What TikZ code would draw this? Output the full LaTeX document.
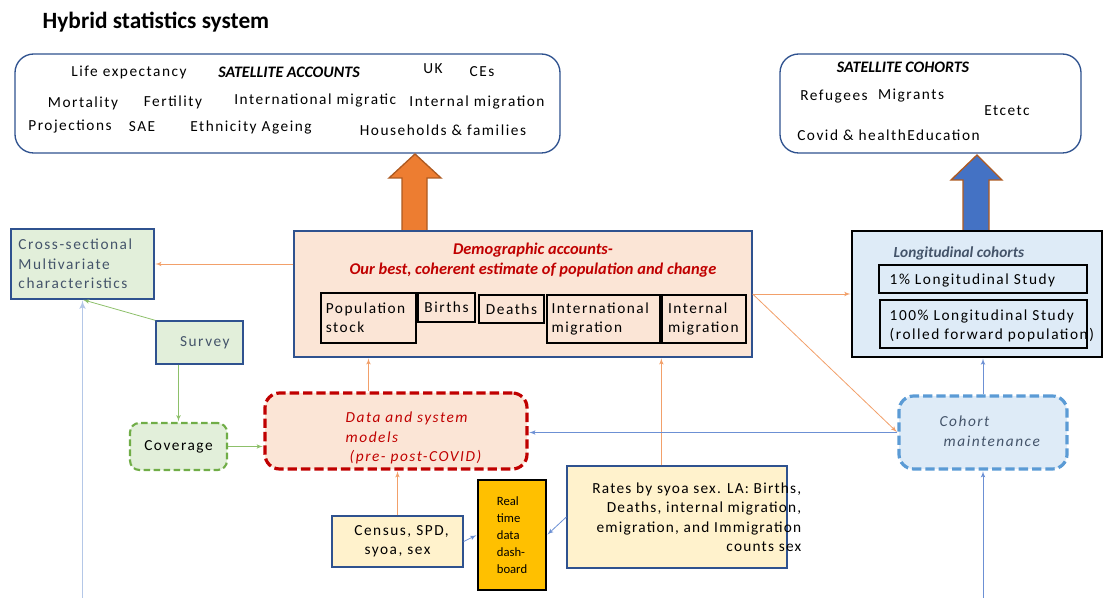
\documentclass[tikz,border=0pt]{standalone}
\usepackage{fontspec}
\setmainfont{Carlito}[LetterSpace=10,BoldFeatures={LetterSpace=0},BoldItalicFeatures={LetterSpace=0}]
\usepackage{tikz}
\usetikzlibrary{arrows}
\usetikzlibrary{calc}

\definecolor{boxblue}{HTML}{2F528F}
\definecolor{graytxt}{HTML}{44546A}
\definecolor{redtxt}{HTML}{C00000}
\definecolor{pinkfill}{HTML}{FBE5D6}
\definecolor{greenfill}{HTML}{E2EFDA}
\definecolor{bluefill}{HTML}{DEEBF7}
\definecolor{yellowfill}{HTML}{FFF2CC}
\definecolor{goldfill}{HTML}{FFC000}
\definecolor{arroworange}{HTML}{ED7D31}
\definecolor{arrowblue}{HTML}{4472C4}
\definecolor{arrowedge}{HTML}{AE5A21}
\definecolor{lnorange}{HTML}{F2A06A}
\definecolor{lngreen}{HTML}{8DC06A}
\definecolor{lnblue}{HTML}{6C90D4}
\definecolor{lnpale}{HTML}{B4C7E7}
\definecolor{dashgreen}{HTML}{70AD47}
\definecolor{dashblue}{HTML}{5B9BD5}

\begin{document}
\begin{tikzpicture}[x=0.75pt,y=-0.75pt,>=latex',
	every node/.style={font=\fontsize{11.5}{14.5}\selectfont},
	sat box/.style={draw=boxblue,line width=1pt,rounded corners=14pt,fill=white},
	main box/.style={draw=boxblue,line width=1pt},
	inner box/.style={draw=black,line width=1pt,inner sep=0pt},
	link/.style={->,line width=0.6pt,shorten >=0.5pt},
	big arrow/.style={line width=1pt,draw=arrowedge}]

	\useasboundingbox (0,0) rectangle (1103,598);

	\node[font=\fontsize{17.5}{20}\selectfont\bfseries,anchor=west] (title) at (38,22) {Hybrid statistics system};

	% satellite accounts
	\node[sat box,minimum width=408.75pt,minimum height=74.25pt] (satacc) at (287.5,103.5) {};
	\node (lifeexp) at (129,72) {Life expectancy};
	\node[font=\fontsize{12}{14.5}\selectfont\bfseries\itshape] (sataccttl) at (289,72) {SATELLITE ACCOUNTS};
	\node (uk) at (433,69) {UK};
	\node (ces) at (482,72) {CEs};
	\node (mort) at (83,103) {Mortality};
	\node (fert) at (173,102) {Fertility};
	\node[anchor=west,inner sep=0pt] (intmig) at (234,100) {International migratic};
	\node (inmig) at (477,102) {Internal migration};
	\node (proj) at (70,127) {Projections};
	\node (sae) at (142,127) {SAE};
	\node (eth) at (251,127) {Ethnicity Ageing};
	\node (hh) at (443,130) {Households \& families};

	% satellite cohorts
	\node[sat box,minimum width=225.75pt,minimum height=74.25pt] (satcoh) at (930.5,103.5) {};
	\node[font=\fontsize{12}{14.5}\selectfont\bfseries\itshape] (satcohttl) at (903,67) {SATELLITE COHORTS};
	\node (refug) at (834,97) {Refugees};
	\node (migr) at (911,96) {Migrants};
	\node (etc) at (1007,111) {Etcetc};
	\node[anchor=west,inner sep=0pt] (covid) at (797,135) {Covid \& health};
	\node[anchor=east,inner sep=0pt] (educ) at (980,135) {Education};

	% block arrows
	\draw[big arrow,fill=arroworange] (402,232) -- (402,178) -- (389,178) -- (415,154) -- (441,178) -- (427,178) -- (427,232) -- cycle;
	\draw[big arrow,fill=arrowblue] (963,232) -- (963,180) -- (951,180) -- (977,155) -- (1002,180) -- (989,180) -- (989,232) -- cycle;

	% demographic accounts
	\node[main box,fill=pinkfill,minimum width=343.5pt,minimum height=94.5pt] (demo) at (523,294) {};
	\node[text=redtxt,font=\fontsize{12.3}{15.2}\selectfont\bfseries\itshape,align=center] (demottl) at (533,260) {Demographic accounts-\\Our best, coherent estimate of population and change};
	\node[inner box,minimum width=71.25pt,minimum height=37.5pt,text width=64pt,align=left] (pop) at (368.5,318) {Population\\stock};
	\node[inner box,minimum width=42.75pt,minimum height=21.75pt] (births) at (446.5,307.5) {Births};
	\node[inner box,minimum width=48.75pt,minimum height=21pt] (deaths) at (511.5,309) {Deaths};
	\node[inner box,minimum width=84.75pt,minimum height=36pt,text width=78pt,align=left] (intl) at (603.5,319) {International\\migration};
	\node[inner box,minimum width=63pt,minimum height=36pt,text width=54pt,align=left] (intern) at (704,319) {Internal\\migration};

	% left side
	\node[main box,fill=greenfill,minimum width=107.25pt,minimum height=52.5pt,text width=96pt,align=left,text=graytxt] (xsec) at (82.5,264) {Cross-sectional\\Multivariate\\characteristics};
	\node[main box,fill=greenfill,minimum width=65.25pt,minimum height=32.25pt,text=graytxt] (survey) at (199.5,342.5) {\hspace{8pt}Survey};
	\node[draw=dashgreen,line width=1.6pt,dash pattern=on 5pt off 2.5pt,rounded corners=7pt,fill=greenfill,minimum width=72.75pt,minimum height=35.25pt] (cover) at (178.5,446.5) {Coverage};

	% models
	\node[draw=redtxt,line width=2.4pt,dash pattern=on 7pt off 3pt,rounded corners=11pt,fill=pinkfill,minimum width=196.5pt,minimum height=57pt] (models) at (396,431) {};
	\node[text=redtxt,font=\fontsize{11.5}{14.5}\selectfont\itshape,align=left,anchor=west] (modelstxt) at (341,438) {Data and system\\models\\\hspace{3pt}(pre- post-COVID)};

	% right side
	\node[draw=black,line width=1.3pt,fill=bluefill,minimum width=187.5pt,minimum height=94.5pt] (longit) at (977,294) {};
	\node[text=graytxt,font=\fontsize{11.5}{14.5}\selectfont\bfseries\itshape,anchor=west] (longttl) at (889,253) {Longitudinal cohorts};
	\node[inner box,minimum width=156pt,minimum height=21pt] (ls1) at (983,279) {};
	\node[anchor=west] (ls1txt) at (885,280) {1\% Longitudinal Study};
	\node[inner box,minimum width=155.25pt,minimum height=36pt] (ls100) at (983.5,324) {};
	\node[anchor=west,align=left] (ls100txt) at (885,326) {100\% Longitudinal Study\\(rolled forward population)};
	\node[draw=dashblue,line width=2.4pt,dash pattern=on 7pt off 3pt,rounded corners=11pt,fill=bluefill,minimum width=126pt,minimum height=54.75pt] (cohmaint) at (983,432.5) {};
	\node[text=graytxt,font=\fontsize{11.5}{15}\selectfont\itshape,align=left,anchor=west] (cohmainttxt) at (935,431) {Cohort\\\hspace{3pt}maintenance};

	% bottom row
	\node[main box,fill=yellowfill,minimum width=98.25pt,minimum height=38.25pt,align=center] (census) at (397.5,541.5) {\hspace{6pt}Census, SPD,\\syoa, sex};
	\node[draw=black,line width=1.5pt,fill=goldfill,minimum width=51pt,minimum height=82.5pt,align=left,font=\fontsize{9.5}{12.8}\selectfont\addfontfeatures{LetterSpace=0}] (dash) at (512,535) {Real\\time\\data\\dash-\\board};
	\node[main box,fill=yellowfill,minimum width=165pt,minimum height=76.5pt] (rates) at (677,517) {};
	\node[anchor=east,align=right,font=\fontsize{11.5}{14.6}\selectfont\addfontfeatures{LetterSpace=8}] (ratestxt) at (806,517) {Rates by syoa sex. LA: Births,\\Deaths, internal migration,\\emigration, and Immigration\\counts sex};

	\coordinate (leftfoot) at (82.5,598);
	\coordinate (rightfoot) at (983,598);

	% connectors
	\draw[link,lnorange] (demo.west |- xsec.east) -- (xsec.east);
	\draw[link,lnorange] (demo.east) -- (longit.west);
	\draw[link,lnorange] (demo.east) -- (cohmaint.west);
	\draw[link,lnorange] (models.north -| pop.south) -- (demo.south -| pop.south);
	\draw[link,lnorange] (rates.north -| intern.west) -- (demo.south -| intern.west);
	\draw[link,lnorange] (census.north) -- (census.north |- models.south);
	\draw[link,lngreen] (survey.north west) -- (xsec.south);
	\draw[link,lngreen] (cover.north |- survey.south) -- (cover.north);
	\draw[link,lngreen] (cover.east) -- (cover.east -| models.west);
	\draw[link,lnblue] (census.east) -- (dash.west);
	\draw[link,lnblue] (rates.west) -- (dash.east);
	\draw[link,lnblue] (cohmaint.west) -- (cohmaint.west -| models.east);
	\draw[link,lnblue] (cohmaint.north) -- (cohmaint.north |- longit.south);
	\draw[link,lnpale,line width=1.2pt] (leftfoot) -- (xsec.south);
	\draw[link,lnblue] (rightfoot) -- (cohmaint.south);

\end{tikzpicture}
\end{document}
